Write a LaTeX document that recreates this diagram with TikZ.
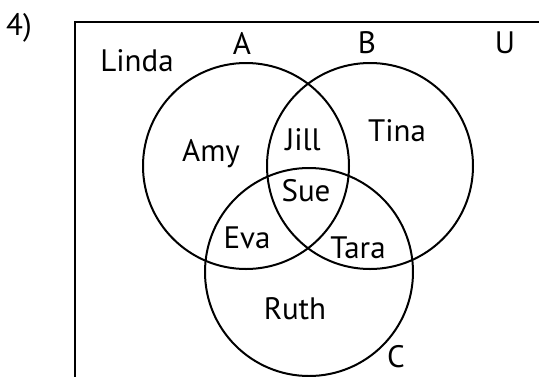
\documentclass[tikz,border=0pt]{standalone}
\usepackage{fontspec}
\setmainfont{PT Sans}
\usetikzlibrary{positioning}
\tikzset{
    menge/.style={
           circle,
           draw=black, line width=2pt,
           minimum size=206pt,
           inner sep=0pt},
    eintrag/.style={
           font=\fontsize{31}{34}\selectfont,
           inner sep=0pt,
           text centered}
}

\begin{document}
\begin{tikzpicture}[x=1pt, y=-1pt]
        \useasboundingbox (0,0) rectangle (539,376);
        \clip (0,0) rectangle (539,376);
        \draw[line width=2pt] (75,22) rectangle (560,400);

        \node[menge] (a) at (246,166) {};
        \node[menge] (b) at (370,166) {};
        \node[menge, minimum size=208pt] (c) at (309,272) {};

        \node[eintrag] (nr) at (19,28) {4)};
        \node[eintrag] (la) at (242,43) {A};
        \node[eintrag] (lb) at (367,43) {B};
        \node[eintrag] (lu) at (505,43) {U};
        \node[eintrag] (lc) at (396,357) {C};

        \node[eintrag] (linda) at (137,61) {Linda};
        \node[eintrag] (amy) at (211,154) {Amy};
        \node[eintrag] (jill) at (303,140) {Jill};
        \node[eintrag] (tina) at (397,131) {Tina};
        \node[eintrag] (sue) at (306,191) {Sue};
        \node[eintrag] (eva) at (247,238) {Eva};
        \node[eintrag] (tara) at (358,248) {Tara};
        \node[eintrag] (ruth) at (295,309) {Ruth};
\end{tikzpicture}
\end{document}
